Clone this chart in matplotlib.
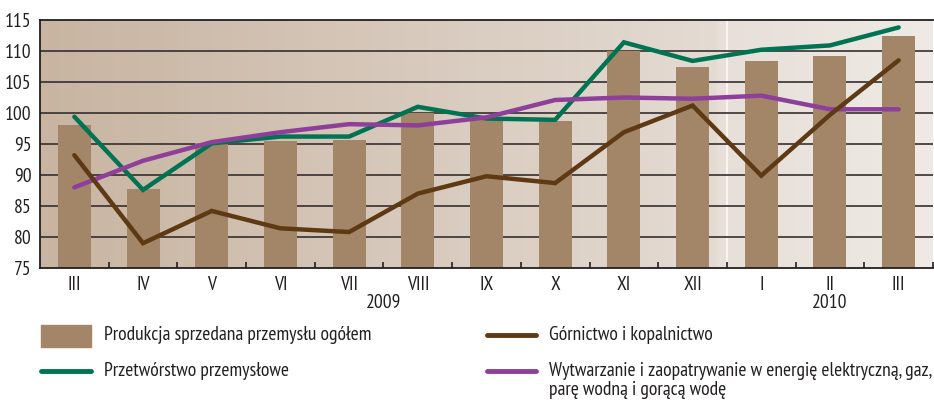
import matplotlib
matplotlib.use("Agg")
import matplotlib.pyplot as plt
import numpy as np
from matplotlib.colors import LinearSegmentedColormap
from matplotlib.lines import Line2D
from matplotlib.patches import Rectangle

plt.rcParams['font.family'] = ['PT Sans Narrow', 'Roboto Condensed', 'DejaVu Sans']

months = ["III", "IV", "V", "VI", "VII", "VIII", "IX", "X", "XI", "XII", "I", "II", "III"]
years = ["2009", "2010"]
total = [98.1, 87.7, 95.2, 95.5, 95.6, 100.0, 99.0, 98.7, 110.0, 107.4, 108.4, 109.2, 112.4]
manufacturing = [99.4, 87.6, 95.1, 96.2, 96.2, 101.0, 99.1, 98.9, 111.4, 108.4, 110.2, 110.9, 113.8]
mining = [93.2, 79.0, 84.2, 81.4, 80.8, 87.0, 89.8, 88.7, 96.9, 101.2, 89.9, 99.7, 108.5]
energy = [88.0, 92.3, 95.3, 96.9, 98.2, 98.0, 99.3, 102.1, 102.5, 102.3, 102.8, 100.6, 100.6]
labels = ["Produkcja sprzedana przemysłu ogółem", "Przetwórstwo przemysłowe",
          "Górnictwo i kopalnictwo",
          "Wytwarzanie i zaopatrywanie w energię elektryczną, gaz,\nparę wodną i gorącą wodę"]

c_bar = "#a38568"
c_green = "#007352"
c_brown = "#5e3a14"
c_purple = "#8d3f9a"
c_text = "#231f20"
FS = 14

fig = plt.figure(figsize=(9.34, 4.01), dpi=100)
ax = fig.add_axes([40/934, 1-268/401, 893/934, 248/401])
x = np.arange(len(months))
n = len(months)

# background gradient
cmap = LinearSegmentedColormap.from_list("bg", [(0, "#c8b4a1"), (0.7599, "#e4dbd3"),
                                                 (0.7601, "#e7dfd8"), (1, "#efeae6")])
grad = np.linspace(0, 1, 500)[None, :]
ax.imshow(grad, extent=[-0.5, n - 0.5, 75, 115], aspect='auto', cmap=cmap, zorder=0)
ax.axvline(9.5, color="#f7f4f1", lw=1.5, zorder=0.5)

for yv in range(80, 115, 5):
    ax.axhline(yv, color="#352f2f", lw=1.2, zorder=1)

ax.bar(x, [t - 75 for t in total], bottom=75, width=0.48, color=c_bar, zorder=2)
ax.plot(x, manufacturing, color=c_green, lw=3.2, zorder=3, solid_capstyle='round', solid_joinstyle='miter')
ax.plot(x, energy, color=c_purple, lw=3.2, zorder=4, solid_capstyle='round', solid_joinstyle='miter')
ax.plot(x, mining, color=c_brown, lw=3.2, zorder=5, solid_capstyle='round', solid_joinstyle='miter')

ax.set_xlim(-0.5, n - 0.5)
ax.set_ylim(75, 115)
ax.set_yticks(range(75, 116, 5))
ax.tick_params(axis='y', length=0, pad=6, labelsize=FS, colors=c_text)
ax.set_xticks(x)
ax.set_xticklabels(months)
ax.set_xticks(np.arange(0.5, n, 1), minor=True)
ax.tick_params(axis='x', which='major', length=0, pad=6, labelsize=FS, colors=c_text)
ax.tick_params(axis='x', which='minor', direction='in', length=4, width=1.2, color=c_text)
for s in ['left', 'top', 'bottom']:
    ax.spines[s].set_color(c_text)
    ax.spines[s].set_linewidth(1.3)
ax.spines['right'].set_visible(False)

# year labels
ax.text(4.5, -0.142, years[0], transform=ax.get_xaxis_transform(), ha='center', va='center',
        fontsize=FS, color=c_text)
ax.text(11, -0.142, years[1], transform=ax.get_xaxis_transform(), ha='center', va='center',
        fontsize=FS, color=c_text)

# legend
W, H = 934, 401
def fx(px):
    return px / W
def fy(py):
    return 1 - py / H
fig.add_artist(Rectangle((fx(41), fy(347)), fx(50), 22 / H, color=c_bar, transform=fig.transFigure))
fig.text(fx(104), fy(335), labels[0], fontsize=FS, va='center', color=c_text)
fig.add_artist(Line2D([fx(41), fx(91)], [fy(371), fy(371)], color=c_green, lw=3.5,
                      solid_capstyle='round', transform=fig.transFigure))
fig.text(fx(104), fy(371), labels[1], fontsize=FS, va='center', color=c_text)
fig.add_artist(Line2D([fx(487), fx(536)], [fy(335), fy(335)], color=c_brown, lw=3.5,
                      solid_capstyle='round', transform=fig.transFigure))
fig.text(fx(549), fy(335), labels[2], fontsize=FS, va='center', color=c_text)
fig.add_artist(Line2D([fx(487), fx(536)], [fy(371), fy(371)], color=c_purple, lw=3.5,
                      solid_capstyle='round', transform=fig.transFigure))
line_a, line_b = labels[3].split("\n")
fig.text(fx(549), fy(371), line_a, fontsize=FS, va='center', color=c_text)
fig.text(fx(549), fy(390), line_b, fontsize=FS, va='center', color=c_text)

fig.savefig("out.png", dpi=100)
